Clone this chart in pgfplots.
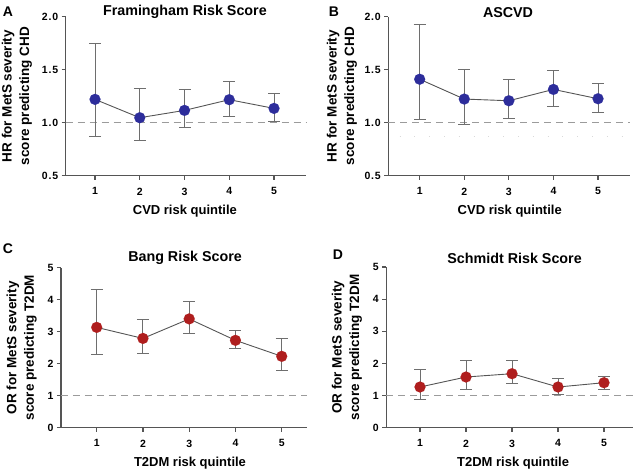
\documentclass[border=0pt]{standalone}
\usepackage{pgfplots}
\usepackage{pgfplotstable}
\pgfplotsset{compat=1.18}
\usepackage{fontspec}
\setmainfont{Liberation Sans}
\definecolor{mblue}{RGB}{45,45,155}
\definecolor{mred}{RGB}{175,30,30}
\definecolor{axgray}{RGB}{85,85,85}
\definecolor{ebgray}{RGB}{110,110,110}
\definecolor{dashgray}{RGB}{155,155,155}

\pgfplotstableread{
x y ep em
1 1.220 0.525 0.350
2 1.047 0.279 0.217
3 1.116 0.201 0.166
4 1.217 0.173 0.154
5 1.135 0.139 0.123
}\dataA
\pgfplotstableread{
x y ep em
1 1.410 0.517 0.380
2 1.223 0.283 0.239
3 1.207 0.198 0.167
4 1.314 0.182 0.157
5 1.226 0.148 0.129
}\dataB
\pgfplotstableread{
x y ep em
1 3.135 1.195 0.845
2 2.790 0.585 0.470
3 3.400 0.540 0.470
4 2.730 0.320 0.270
5 2.230 0.560 0.440
}\dataC
\pgfplotstableread{
x y ep em
1 1.266 0.560 0.376
2 1.577 0.529 0.387
3 1.680 0.405 0.320
4 1.266 0.269 0.226
5 1.400 0.200 0.200
}\dataD

\newcommand{\dk}{\kern0.8pt}
\pgfplotsset{
  every axis title shift=0pt,
  panel/.style={
    scale only axis,
    anchor=south west,
    axis x line*=bottom, axis y line*=left,
    axis line style={axgray, line width=1.1pt, -},
    tick style={axgray, line width=1.1pt},
    tick align=outside,
    major tick length=4pt,
    xtick={1,2,3,4,5},
    tick label style={font=\bfseries\fontsize{10.5}{12}\selectfont, text=black},
    xticklabel style={yshift=-4.5pt},
    /pgf/number format/assume math mode=true,
    ylabel style={align=center, font=\bfseries\fontsize{13.5}{17.5}\selectfont, anchor=center},
    xlabel style={font=\bfseries\fontsize{13}{15}\selectfont, anchor=center},
    title style={font=\bfseries\fontsize{14.3}{16}\selectfont, anchor=center},
    clip=false,
  },
  ser/.style={
    color=#1, draw=axgray, line width=0.9pt,
    mark=*, mark size=5.5pt, mark options={fill=#1, draw=#1, line width=0.1pt},
    error bars/.cd, y dir=both, y explicit,
    error bar style={ebgray, line width=1pt},
    error mark options={ebgray, line width=1pt, mark size=6pt, rotate=90},
  },
  refline/.style={dashgray, line width=1pt, dash pattern=on 7pt off 5pt, forget plot, mark=none},
}

\begin{document}
\begin{tikzpicture}
\useasboundingbox (0pt,0pt) rectangle (638pt,473pt);

% Panel A
\begin{axis}[panel, at={(65.7pt,297.3pt)}, width=240.3pt, height=159pt,
  xmin=0.345, xmax=5.715, ymin=0.5, ymax=2.0, ytick={0.5,1.0,1.5,2.0},
  yticklabels={0\dk.\dk5,1\dk.\dk0,1\dk.\dk5,2\dk.\dk0},
  ylabel={HR for MetS severity\\score predicting CHD},
  ylabel style={at={(axis description cs:-0.203,0.5)}},
  xlabel={CVD risk quintile},
  xlabel style={at={(axis description cs:0.496,-0.226)}},
  title={Framingham Risk Score},
  title style={at={(axis description cs:0.496,1.028)}}]
\addplot[refline] coordinates {(0.345,1) (5.715,1)};
\addplot[ser=mblue] table[x=x, y=y, y error plus=ep, y error minus=em] {\dataA};
\end{axis}

% Panel B
\begin{axis}[panel, at={(388.3pt,297.3pt)}, width=241.4pt, height=159pt,
  xmin=0.296, xmax=5.71, ymin=0.5, ymax=2.0, ytick={0.5,1.0,1.5,2.0},
  yticklabels={0\dk.\dk5,1\dk.\dk0,1\dk.\dk5,2\dk.\dk0},
  ylabel={HR for MetS severity\\score predicting CHD},
  ylabel style={at={(axis description cs:-0.192,0.5)}},
  xlabel={CVD risk quintile},
  xlabel style={at={(axis description cs:0.503,-0.226)}},
  title={ASCVD},
  title style={at={(axis description cs:0.496,1.028)}}]
\addplot[refline] coordinates {(0.296,1) (5.71,1)};
\addplot[forget plot, mark=none, color=black!15, line width=0.8pt, dash pattern=on 0.8pt off 14pt] coordinates {(0.55,0.874) (5.65,0.874)};
\addplot[ser=mblue] table[x=x, y=y, y error plus=ep, y error minus=em] {\dataB};
\end{axis}

% Panel C
\begin{axis}[panel, at={(61pt,45.3pt)}, width=245.7pt, height=160pt,
  xmin=0.228, xmax=5.54, ymin=0, ymax=5, ytick={0,1,2,3,4,5},
  ylabel={OR for MetS severity\\score predicting T2DM},
  ylabel style={at={(axis description cs:-0.16,0.5)}},
  xlabel={T2DM risk quintile},
  xlabel style={at={(axis description cs:0.525,-0.223)}},
  title={Bang Risk Score},
  title style={at={(axis description cs:0.505,1.059)}}]
\addplot[refline] coordinates {(0.228,1) (5.54,1)};
\addplot[ser=mred] table[x=x, y=y, y error plus=ep, y error minus=em] {\dataC};
\end{axis}

% Panel D
\begin{axis}[panel, at={(386.3pt,45.3pt)}, width=246.7pt, height=160.7pt,
  xmin=0.267, xmax=5.63, ymin=0, ymax=5, ytick={0,1,2,3,4,5},
  ylabel={OR for MetS severity\\score predicting T2DM},
  ylabel style={at={(axis description cs:-0.16,0.5)}},
  xlabel={T2DM risk quintile},
  xlabel style={at={(axis description cs:0.514,-0.223)}},
  title={Schmidt Risk Score},
  title style={at={(axis description cs:0.52,1.054)}}]
\addplot[refline] coordinates {(0.267,1) (5.63,1)};
\addplot[ser=mred] table[x=x, y=y, y error plus=ep, y error minus=em] {\dataD};
\end{axis}

% Panel letters
\node[font=\bfseries\fontsize{14}{16}\selectfont] at (8pt,461pt) {A};
\node[font=\bfseries\fontsize{14}{16}\selectfont] at (334pt,461pt) {B};
\node[font=\bfseries\fontsize{14}{16}\selectfont] at (8pt,224.7pt) {C};
\node[font=\bfseries\fontsize{14}{16}\selectfont] at (338pt,218pt) {D};
\end{tikzpicture}
\end{document}
